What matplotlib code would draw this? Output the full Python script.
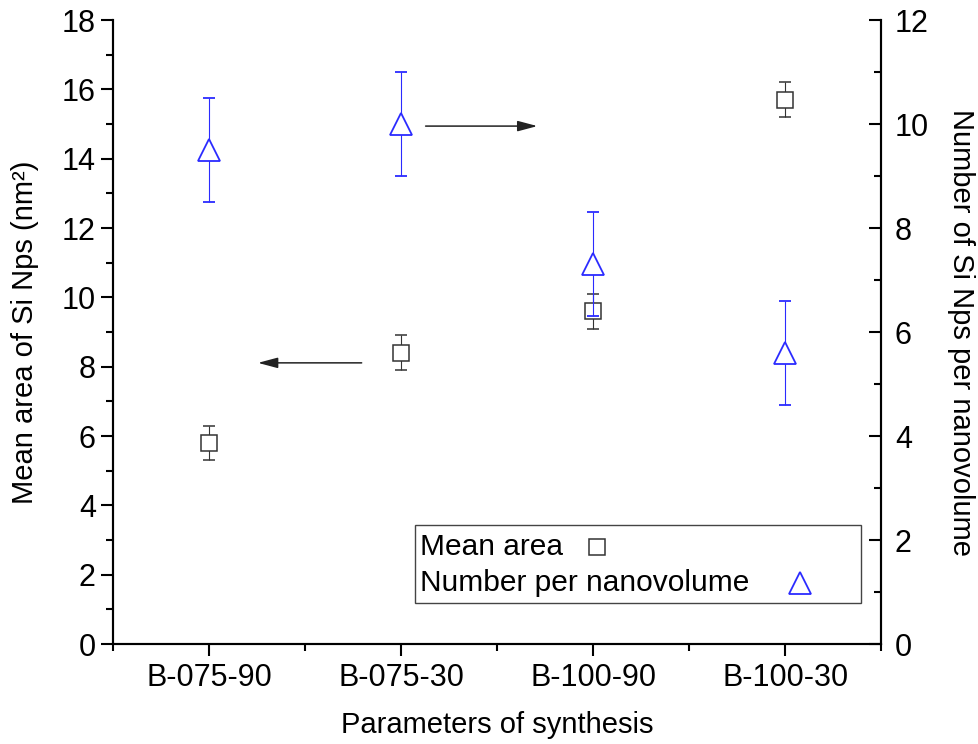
import matplotlib
matplotlib.use("Agg")
import matplotlib.pyplot as plt
from matplotlib.ticker import MultipleLocator
from matplotlib.patches import Rectangle

plt.rcParams['font.family'] = ['Liberation Sans', 'DejaVu Sans']

# Данные
samples = ['B-075-90', 'B-075-30', 'B-100-90', 'B-100-30']
mean_area = [5.8, 8.4, 9.6, 15.7]
mean_area_err = [0.5, 0.5, 0.5, 0.5]
number_per_nv = [9.5, 10.0, 7.3, 5.6]
number_per_nv_err = [1.0, 1.0, 1.0, 1.0]

GRAY = '#333333'
BLUE = '#2b2bff'
TICK_FS = 22
LABEL_FS = 21

x = list(range(1, len(samples) + 1))

fig = plt.figure(figsize=(9.79, 7.44), dpi=100)
ax = fig.add_axes([0.1154, 0.1344, 0.7846, 0.8387])
ax2 = ax.twinx()

ax.errorbar(x, mean_area, yerr=mean_area_err, fmt='s', ms=11.5, mfc='white',
            mec=GRAY, mew=1.1, ecolor=GRAY, elinewidth=0.8, capsize=4.3,
            capthick=0.8, zorder=3)
ax2.errorbar(x, number_per_nv, yerr=number_per_nv_err, fmt='^', ms=15.5, mfc='white',
             mec=BLUE, mew=1.3, ecolor=BLUE, elinewidth=0.8, capsize=4.3,
             capthick=0.8, zorder=3)

ax.set_xlim(0.5, 4.5)
ax.set_ylim(0, 18)
ax2.set_ylim(0, 12)

ax.set_xticks(x)
ax.set_xticklabels(samples)
ax.xaxis.set_minor_locator(MultipleLocator(0.5))
ax.yaxis.set_major_locator(MultipleLocator(2))
ax.yaxis.set_minor_locator(MultipleLocator(1))
ax2.yaxis.set_major_locator(MultipleLocator(2))
ax2.yaxis.set_minor_locator(MultipleLocator(1))

for a in (ax, ax2):
    a.spines['top'].set_visible(False)
    for s in a.spines.values():
        s.set_linewidth(1.5)
ax.tick_params(which='major', length=8.4, width=1.5, labelsize=TICK_FS,
               direction='out', pad=4)
ax.tick_params(which='minor', length=4.8, width=1.5, direction='out')
ax.tick_params(axis='x', pad=5)
# правая ось — засечки внутрь
ax2.tick_params(which='major', length=8.4, width=1.5, labelsize=TICK_FS,
                direction='in', pad=10)
ax2.tick_params(which='minor', length=4.8, width=1.5, direction='in')

ax.set_xlabel('Parameters of synthesis', fontsize=LABEL_FS, labelpad=13)
ax.set_ylabel('Mean area of Si Nps (nm²)', fontsize=LABEL_FS, labelpad=16)
ax2.set_ylabel('Number of Si Nps per nanovolume', fontsize=LABEL_FS,
               rotation=270, labelpad=33)

# Стрелки, указывающие на оси
arrow = dict(arrowstyle='-|>,head_length=0.6,head_width=0.16', color='#222222',
             lw=1.1, mutation_scale=20, shrinkA=0, shrinkB=0)
ax.annotate('', xy=(1.255, 8.11), xytext=(1.795, 8.11), arrowprops=arrow)
ax.annotate('', xy=(2.71, 14.94), xytext=(2.128, 14.94), arrowprops=arrow)

# Легенда в стиле Origin
ax2.add_patch(Rectangle((0.393, 0.065), 0.5806, 0.125, transform=ax2.transAxes,
                        fill=True, facecolor='white', edgecolor='#444444', lw=1.0,
                        zorder=5))
ax2.text(0.400, 0.155, 'Mean area', transform=ax2.transAxes, fontsize=21.5,
         va='center', ha='left', zorder=6)
ax2.text(0.400, 0.097, 'Number per nanovolume', transform=ax2.transAxes,
         fontsize=21.5, va='center', ha='left', zorder=6)
ax2.plot([0.630], [0.155], 's', ms=11.5, mfc='white', mec=GRAY, mew=1.1,
         transform=ax2.transAxes, zorder=6)
ax2.plot([0.8945], [0.097], '^', ms=15.5, mfc='white', mec=BLUE, mew=1.3,
         transform=ax2.transAxes, zorder=6)

fig.savefig('out.png', dpi=100)
plt.close(fig)
